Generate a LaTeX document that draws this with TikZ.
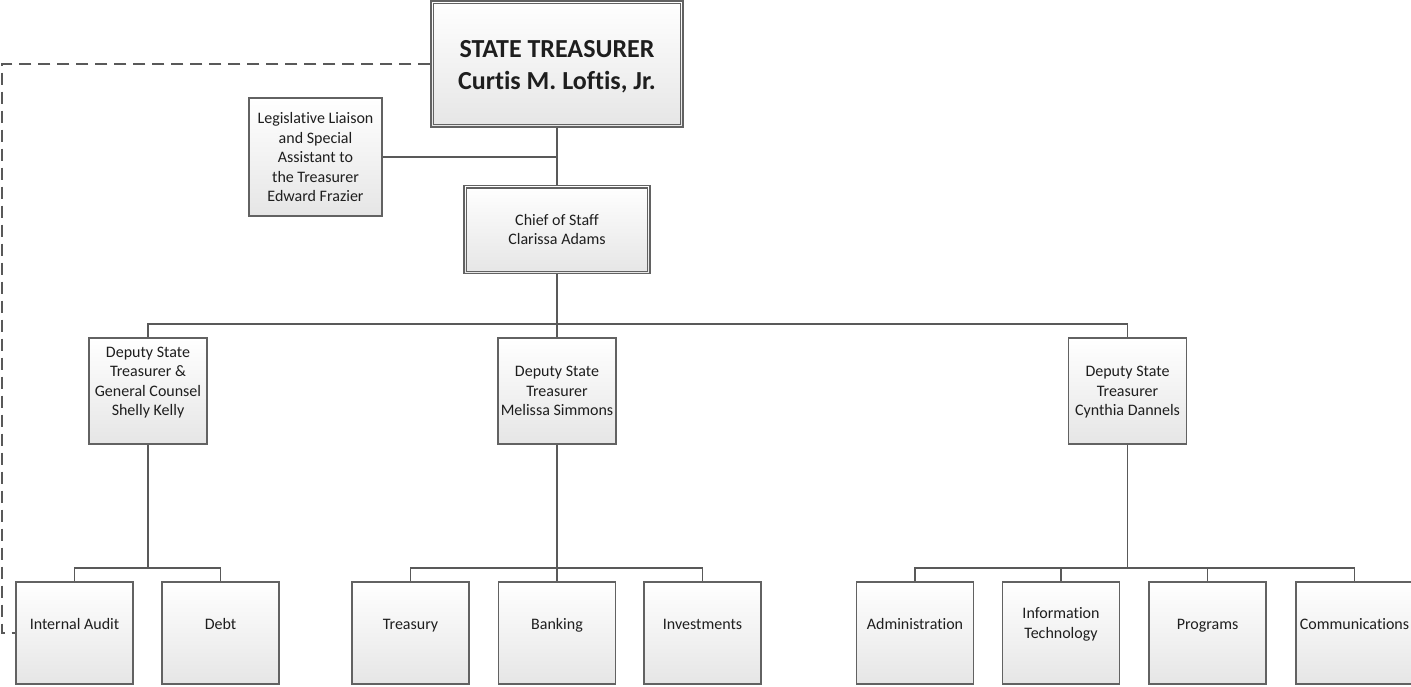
\documentclass[tikz,border=0pt]{standalone}
\usepackage{fontspec}
\setmainfont[Ligatures=NoCommon]{Carlito}
\definecolor{boxline}{HTML}{626262}
\definecolor{conn}{HTML}{595959}
\definecolor{txtc}{HTML}{1E1E1E}
\tikzset{
  orgbox/.style={draw=boxline, line width=1.4pt, top color=white, bottom color=black!10, inner sep=0pt},
  smallbox/.style={orgbox, minimum width=117pt, minimum height=102pt},
  depbox/.style={orgbox, minimum width=118pt, minimum height=106pt},
  innerframe/.style={draw=boxline, line width=1.4pt},
  conn/.style={draw=conn, line width=1.4pt},
  lbl/.style={inner sep=0pt, align=center, text=txtc, font=\fontsize{16}{19.5}\selectfont, yshift=-3pt,
    execute at begin node={\strut}, execute at end node={\strut}},
  biglbl/.style={inner sep=0pt, align=center, text=txtc, font=\fontsize{26}{32}\selectfont\bfseries, yshift=-6pt,
    execute at begin node={\strut}, execute at end node={\strut}}
}
\begin{document}
\begin{tikzpicture}[x=1pt,y=-1pt]
\useasboundingbox (0,0) rectangle (1411,686);
% boxes
\node[orgbox, minimum width=252pt, minimum height=126pt] (top) at (557,64) {};
\node[orgbox, minimum width=133pt, minimum height=118pt] (leg) at (315.5,157) {};
\node[orgbox, minimum width=186pt, minimum height=88pt] (chief) at (557,229.5) {};
\node[depbox] (dep1) at (148,391) {};
\node[depbox] (dep2) at (557,391) {};
\node[depbox] (dep3) at (1127.5,391) {};
\node[smallbox] (ia) at (74.5,633) {};
\node[smallbox] (debt) at (220.5,633) {};
\node[smallbox] (tre) at (410.5,633) {};
\node[smallbox] (ban) at (557,633) {};
\node[smallbox] (inv) at (702.5,633) {};
\node[smallbox] (adm) at (915,633) {};
\node[smallbox] (it) at (1061,633) {};
\node[smallbox] (prg) at (1207.5,633) {};
\node[smallbox] (com) at (1354.5,633) {};
% inner frames of double-bordered boxes
\draw[innerframe] ([xshift=3pt,yshift=-3pt]top.north west) rectangle ([xshift=-3pt,yshift=3pt]top.south east);
\draw[innerframe] ([xshift=3pt,yshift=-3pt]chief.north west) rectangle ([xshift=-3pt,yshift=3pt]chief.south east);
% texts
\node[biglbl] (ttop) at (top.center) {STATE TREASURER\\Curtis M. Loftis, Jr.};
\node[lbl] (tleg) at (leg.center) {Legislative Liaison\\and Special\\Assistant to\\the Treasurer\\Edward Frazier};
\node[lbl] (tchief) at (chief.center) {Chief of Staff\\Clarissa Adams};
\node[lbl] (tdep1) at ([yshift=10pt]dep1.center) {Deputy State\\Treasurer \&\\General Counsel\\Shelly Kelly};
\node[lbl] (tdep2) at (dep2.center) {Deputy State\\Treasurer\\Melissa Simmons};
\node[lbl] (tdep3) at (dep3.center) {Deputy State\\Treasurer\\Cynthia Dannels};
\node[lbl] (tia) at ([yshift=10pt]ia.center) {Internal Audit};
\node[lbl] (tdebt) at ([yshift=10pt]debt.center) {Debt};
\node[lbl] (ttre) at ([yshift=10pt]tre.center) {Treasury};
\node[lbl] (tban) at ([yshift=10pt]ban.center) {Banking};
\node[lbl] (tinv) at ([yshift=10pt]inv.center) {Investments};
\node[lbl] (tadm) at ([yshift=10pt]adm.center) {Administration};
\node[lbl] (tit) at ([yshift=10pt]it.center) {Information\\Technology};
\node[lbl] (tprg) at ([yshift=10pt]prg.center) {Programs};
\node[lbl] (tcom) at ([yshift=10pt]com.center) {Communications};
% connectors
\coordinate (busA) at (0,324);
\coordinate (busB) at (0,568);
\coordinate (dashx) at (2,0);
\draw[conn] (top.south) -- (chief.north);
\draw[conn] (leg.east) -- (leg.east -| chief.north);
\draw[conn] (chief.south) -- (dep2.north);
\draw[conn] (dep1.north) -- (dep1.north |- busA) -- (dep3.north |- busA) -- (dep3.north);
\draw[conn] (dep1.south) -- (dep1.south |- busB);
\draw[conn] (ia.north) |- (debt.north |- busB) -- (debt.north);
\draw[conn] (dep2.south) -- (ban.north);
\draw[conn] (tre.north) |- (inv.north |- busB) -- (inv.north);
\draw[conn] (dep3.south) -- (dep3.south |- busB);
\draw[conn] (adm.north) |- (com.north |- busB) -- (com.north);
\draw[conn] (it.north) -- (it.north |- busB);
\draw[conn] (prg.north) -- (prg.north |- busB);
\draw[conn, dash pattern=on 12pt off 7pt] (top.west) -- (top.west -| dashx) |- (ia.west);
\end{tikzpicture}
\end{document}
